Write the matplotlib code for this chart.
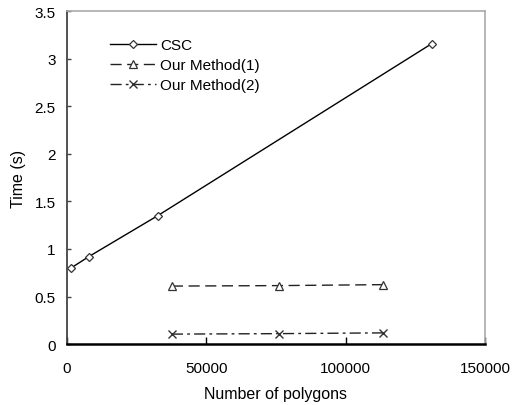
import matplotlib
matplotlib.use('Agg')
import matplotlib.pyplot as plt

plt.rcParams['font.family'] = ['Liberation Sans', 'DejaVu Sans']

# data
csc_x = [1500, 7900, 32600, 131000]
csc_y = [0.80, 0.92, 1.35, 3.16]
m1_x = [37700, 76000, 113400]
m1_y = [0.61, 0.615, 0.625]
m2_x = [37700, 76000, 113400]
m2_y = [0.105, 0.11, 0.118]

xticks = [0, 50000, 100000, 150000]
yticks = [0, 0.5, 1, 1.5, 2, 2.5, 3, 3.5]
ytick_labels = ['0', '0.5', '1', '1.5', '2', '2.5', '3', '3.5']

fig = plt.figure(figsize=(5.22, 4.06), dpi=100)
ax = fig.add_axes([0.128, 0.150, 0.801, 0.820])

ax.plot(csc_x, csc_y, color='black', lw=1.0, marker='D', ms=4.5,
        mfc='white', mec='#333333', mew=0.9, label='CSC')
ax.plot(m1_x, m1_y, color='#222222', lw=1.0, ls=(0, (8, 4)), marker='^', ms=6,
        mfc='white', mec='#333333', mew=0.9, label='Our Method(1)')
ax.plot(m2_x, m2_y, color='#222222', lw=1.0, ls=(0, (8, 3, 2, 3)), marker='x', ms=6,
        mec='#333333', mew=1.0, label='Our Method(2)')

ax.set_xlim(0, 150000)
ax.set_ylim(0, 3.5)
ax.set_xticks(xticks)
ax.set_yticks(yticks)
ax.set_yticklabels(ytick_labels)
ax.tick_params(axis='x', direction='in', length=5, width=1.0, labelsize=11, pad=12)
ax.tick_params(axis='y', direction='in', length=3, width=1.0, colors='#444444',
               labelcolor='black', labelsize=11, pad=8)

# plot area frame: dark axes, grey border
ax.spines['top'].set_color('#aaaaaa')
ax.spines['right'].set_color('#aaaaaa')
ax.spines['top'].set_linewidth(1.2)
ax.spines['right'].set_linewidth(1.2)
ax.spines['left'].set_color('#444444')
ax.spines['left'].set_linewidth(1.3)
ax.spines['bottom'].set_color('black')
ax.spines['bottom'].set_linewidth(1.8)

ax.set_xlabel('Number of polygons', fontsize=11.5, labelpad=8)
ax.set_ylabel('Time (s)', fontsize=11.5, labelpad=6)

ax.legend(loc='upper left', bbox_to_anchor=(0.07, 0.96), frameon=False,
          fontsize=11, handlelength=3.0, handletextpad=0.3, labelspacing=0.4)

fig.savefig('out.png', dpi=100)
